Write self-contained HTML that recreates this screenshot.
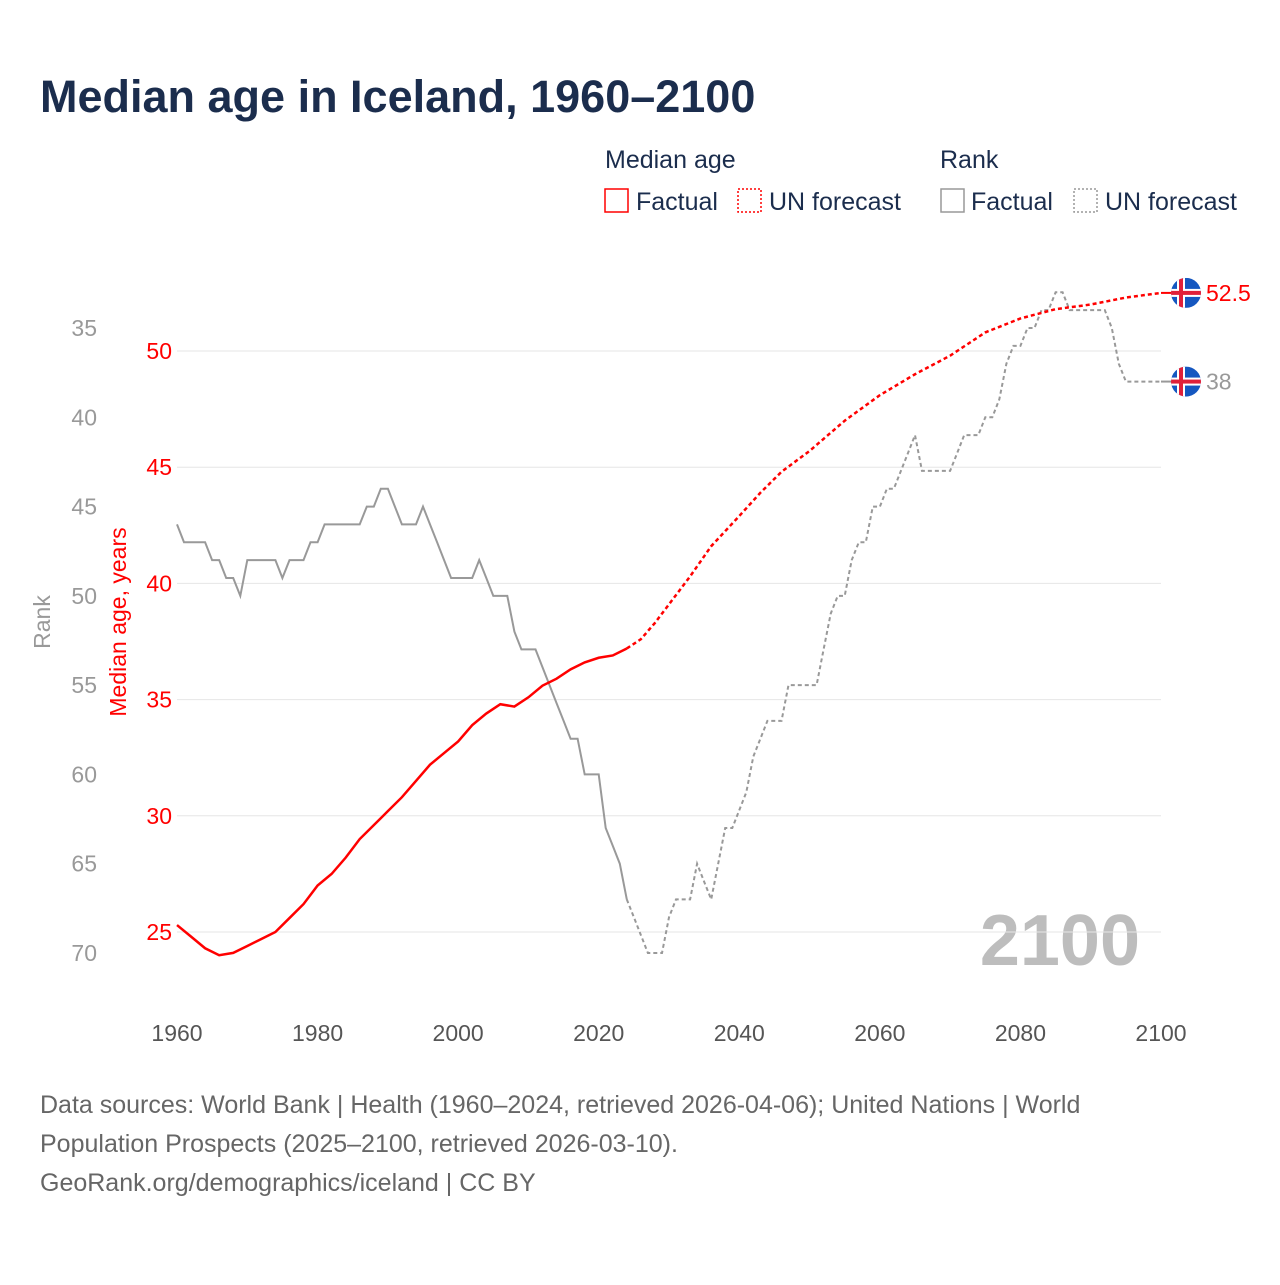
<!DOCTYPE html>
<html><head><meta charset="utf-8"><style>
body{margin:0;background:#fff;font-family:"Liberation Sans",sans-serif}
</style></head><body>
<svg id="c" width="1280" height="1280" xmlns="http://www.w3.org/2000/svg" font-family="Liberation Sans, sans-serif">
<defs><clipPath id="fc"><circle cx="0" cy="0" r="15"/></clipPath>
<g id="flag"><g clip-path="url(#fc)"><rect x="-15" y="-15" width="30" height="30" fill="#1557c0"/><rect x="-9" y="-15" width="8" height="30" fill="#fff"/><rect x="-15" y="-4" width="30" height="8" fill="#fff"/><rect x="-7" y="-15" width="4" height="30" fill="#e0203a"/><rect x="-15" y="-2" width="30" height="4" fill="#e0203a"/></g></g></defs>
<text x="40" y="112" font-size="45" font-weight="bold" fill="#1b2d4d">Median age in Iceland, 1960–2100</text>
<g font-size="25" fill="#1b2d4d">
<text x="605" y="168">Median age</text>
<text x="940" y="168">Rank</text>
<rect x="605" y="189" width="23" height="23" fill="none" stroke="red" stroke-width="1.5"/>
<text x="636" y="210">Factual</text>
<rect x="738" y="189" width="23" height="23" fill="none" stroke="red" stroke-width="1.5" stroke-dasharray="2 2"/>
<text x="769" y="210">UN forecast</text>
<rect x="941" y="189" width="23" height="23" fill="none" stroke="#999" stroke-width="1.5"/>
<text x="971" y="210">Factual</text>
<rect x="1074" y="189" width="23" height="23" fill="none" stroke="#999" stroke-width="1.5" stroke-dasharray="2 2"/>
<text x="1105" y="210">UN forecast</text>
</g>
<text x="1140" y="965" font-size="72" font-weight="bold" fill="#bdbdbd" text-anchor="end">2100</text>
<text transform="translate(50,622) rotate(-90)" font-size="23" fill="#999" text-anchor="middle">Rank</text>
<text transform="translate(126,622) rotate(-90)" font-size="23" fill="red" text-anchor="middle">Median age, years</text>
<g id="g"></g>
<text x="40" y="1113" font-size="25" fill="#666">Data sources: World Bank | Health (1960–2024, retrieved 2026-04-06); United Nations | World</text>
<text x="40" y="1152" font-size="25" fill="#666">Population Prospects (2025–2100, retrieved 2026-03-10).</text>
<text x="40" y="1191" font-size="25" fill="#666">GeoRank.org/demographics/iceland | CC BY</text>
</svg>
<script>
const xTicks=[1960,1980,2000,2020,2040,2060,2080,2100];
const ageTicks=[25,30,35,40,45,50];
const rankTicks=[35,40,45,50,55,60,65,70];
const ageYears=[1960,1962,1964,1966,1968,1970,1972,1974,1976,1978,1980,1982,1984,1986,1988,1990,1992,1994,1996,1998,2000,2002,2004,2006,2008,2010,2012,2014,2016,2018,2020,2022,2024];
const ageValues=[25.3,24.8,24.3,24.0,24.1,24.4,24.7,25.0,25.6,26.2,27.0,27.5,28.2,29.0,29.6,30.2,30.8,31.5,32.2,32.7,33.2,33.9,34.4,34.8,34.7,35.1,35.6,35.9,36.3,36.6,36.8,36.9,37.2];
const ageFcYears=[2024,2026,2028,2030,2033,2036,2040,2043,2046,2050,2055,2060,2065,2070,2075,2080,2085,2090,2095,2100];
const ageFcValues=[37.2,37.6,38.3,39.1,40.3,41.6,42.9,43.9,44.8,45.7,47.0,48.1,49.0,49.8,50.8,51.4,51.8,52.0,52.3,52.5];
const rankStart=1960;
const rankValues=[46,47,47,47,47,48,48,49,49,50,48,48,48,48,48,49,48,48,48,47,47,46,46,46,46,46,46,45,45,44,44,45,46,46,46,45,46,47,48,49,49,49,49,48,49,50,50,50,52,53,53,53,54,55,56,57,58,58,60,60,60,63,64,65,67,68,69,70,70,70,68,67,67,67,65,66,67,65,63,63,62,61,59,58,57,57,57,55,55,55,55,55,53,51,50,50,48,47,47,45,45,44,44,43,42,41,43,43,43,43,43,42,41,41,41,40,40,39,37,36,36,35,35,34,34,33,33,34,34,34,34,34,34,35,37,38,38,38,38,38,38];
const lastFactualYear=2024;
const X=y=>177+(y-1960)*(1161-177)/140;
const YA=v=>932-(v-25)*(932-351)/25;
const YR=v=>328+(v-35)*(953-328)/35;
const NS='http://www.w3.org/2000/svg';
const g=document.getElementById('g');
function mk(t,a,txt){const e=document.createElementNS(NS,t);for(const k in a)e.setAttribute(k,a[k]);if(txt!=null)e.textContent=txt;g.appendChild(e);return e;}
ageTicks.forEach(v=>{
 let l=mk('line',{x1:177,x2:1161,y1:YA(v),y2:YA(v),stroke:'#e6e6e6','stroke-width':1});
 
 
 let t=mk('text',{x:172,y:YA(v)+8,'font-size':23,fill:'red','text-anchor':'end'},v);
 
 
});
rankTicks.forEach(v=>{
 let t=mk('text',{x:97,y:YR(v)+8,'font-size':23,fill:'#999','text-anchor':'end'},v);
 
 
});
xTicks.forEach(v=>{
 let t=mk('text',{x:X(v),y:1041,'font-size':23,fill:'#555','text-anchor':'middle'},v);
 
 
});
const rf=[],rc=[];
rankValues.forEach((v,i)=>{const yr=rankStart+i;const p=X(yr).toFixed(1)+','+YR(v).toFixed(1);if(yr<=lastFactualYear)rf.push(p);if(yr>=lastFactualYear)rc.push(p);});
let p1=mk('polyline',{points:rf.join(' '),fill:'none',stroke:'#999','stroke-width':2});


let p2=mk('polyline',{points:rc.join(' '),fill:'none',stroke:'#999','stroke-width':2,'stroke-dasharray':'4 3'});


let p3=mk('polyline',{points:ageYears.map((y,i)=>X(y)+','+YA(ageValues[i])).join(' '),fill:'none',stroke:'red','stroke-width':2.5});


let p4=mk('polyline',{points:ageFcYears.map((y,i)=>X(y)+','+YA(ageFcValues[i])).join(' '),fill:'none',stroke:'red','stroke-width':2.5,'stroke-dasharray':'4 3'});


const lastAge=ageFcValues[ageFcValues.length-1], lastRank=rankValues[rankValues.length-1];
let l1=mk('line',{x1:1161,x2:1175,y1:YA(lastAge),y2:YA(lastAge),stroke:'red','stroke-width':2});


let l2=mk('line',{x1:1161,x2:1175,y1:YR(lastRank),y2:YR(lastRank),stroke:'#999','stroke-width':2});


let f1=mk('use',{href:'#flag',x:1186,y:YA(lastAge)});


let f2=mk('use',{href:'#flag',x:1186,y:YR(lastRank)});


let e1=mk('text',{x:1206,y:YA(lastAge)+8,'font-size':23,fill:'red'},lastAge.toFixed(1));


let e2=mk('text',{x:1206,y:YR(lastRank)+8,'font-size':23,fill:'#999'},lastRank);


</script>
</body></html>
